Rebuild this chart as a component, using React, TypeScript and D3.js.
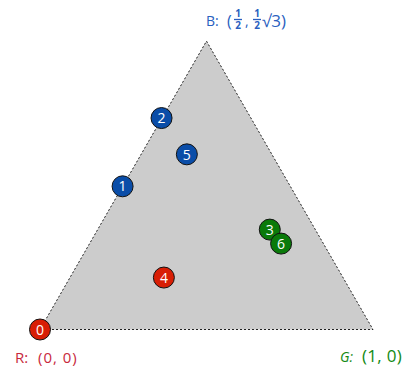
import React from "react";
import * as d3 from "d3";

const vertexNames = ["R", "G", "B"];
const vertexX = [0, 1, 0.5];
const vertexY = [0, 0, Math.sqrt(3) / 2];

const pointLabels = ["0", "1", "2", "3", "4", "5", "6"];
const pointX = [0, 0.248, 0.365, 0.69, 0.372, 0.441, 0.724];
const pointY = [0, 0.43, 0.635, 0.3, 0.156, 0.526, 0.258];
const pointGroup = ["R", "B", "B", "G", "R", "B", "G"];

const fillColors: Record<string, string> = { R: "#d81e05", G: "#0a7a0a", B: "#0a4da8" };

const W = 404;
const H = 369;

export default function App() {
  const x = d3.scaleLinear().domain([0, 1]).range([40, 373]);
  const y = d3.scaleLinear().domain([0, 1]).range([329.5, -3.5]);
  const tri = d3.line<number>().x((i) => x(vertexX[i])).y((i) => y(vertexY[i]));
  const font = "'Open Sans', 'DejaVu Sans', sans-serif";
  return (
    <svg width={W} height={H} style={{ position: "absolute", left: 0, top: 0, background: "#fff" }} fontFamily={font}>
      <path d={tri([0, 1, 2, 0]) + "Z"} fill="#cccccc" stroke="#222" strokeWidth={1} strokeDasharray="2,2" />
      {pointLabels.map((lab, i) => (
        <g key={lab} transform={`translate(${x(pointX[i])},${y(pointY[i])})`}>
          <circle r={10.5} fill={fillColors[pointGroup[i]]} stroke="#111" strokeWidth={1} />
          <text textAnchor="middle" dy="0.37em" fill="#fff" fontSize={14}>{lab}</text>
        </g>
      ))}
      {/* vertex labels */}
      <g fill="#c8283c" fontSize={15}>
        <text x={15} y={363}>{vertexNames[0]}:</text>
        <text x={38} y={363} letterSpacing={1}>(0, 0)</text>
      </g>
      <g fill="#138a13">
        <text x={340} y={362} fontSize={14} fontStyle="italic">{vertexNames[1]}:</text>
        <text x={362} y={362} fontSize={17} letterSpacing={0.3}>(1, 0)</text>
      </g>
      <g fill="#2a5fc0" fontSize={14}>
        <text x={206} y={26}>{vertexNames[2]}:</text>
        <text x={227} y={27} fontSize={16}>(</text>
        <text x={238} y={16.5} fontSize={10} fontWeight="bold" textAnchor="middle">1</text>
        <line x1={234} x2={242} y1={19.5} y2={19.5} stroke="#2a5fc0" strokeWidth={1.3} />
        <text x={238} y={29} fontSize={10} fontWeight="bold" textAnchor="middle">2</text>
        <text x={245} y={26}>,</text>
        <text x={257} y={16.5} fontSize={10} fontWeight="bold" textAnchor="middle">1</text>
        <line x1={253} x2={261} y1={19.5} y2={19.5} stroke="#2a5fc0" strokeWidth={1.3} />
        <text x={257} y={29} fontSize={10} fontWeight="bold" textAnchor="middle">2</text>
        <text x={262} y={27} fontSize={17}>√3)</text>
      </g>
    </svg>
  );
}
